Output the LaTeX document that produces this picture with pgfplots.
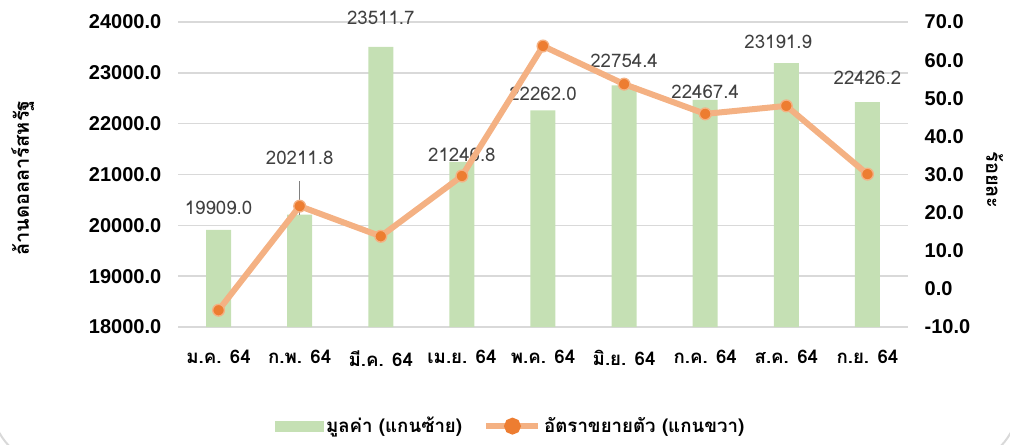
\documentclass[border=0pt]{standalone}
\usepackage{pgfplots}
\pgfplotsset{compat=1.18}
\usepackage{fontspec}
\setmainfont{Liberation Sans}
\newfontfamily\thai[Script=Thai]{Loma}

\definecolor{barg}{HTML}{C5E0B4}
\definecolor{lineo}{HTML}{F4B183}
\definecolor{marko}{HTML}{ED7D31}
\definecolor{gridc}{HTML}{D9D9D9}
\definecolor{lblc}{HTML}{404040}

\begin{document}
\begin{tikzpicture}
\path[use as bounding box] (0,0) rectangle (757.5pt,333pt);
\draw[gridc, line width=1.5pt, rounded corners=45pt] (-6pt,-15pt) rectangle (763.5pt,360pt);

% left axis: values (bars)
\begin{axis}[
  at={(133.5pt,87.75pt)}, anchor=south west,
  scale only axis, width=547.5pt, height=228.75pt,
  xmin=-0.5, xmax=8.5, ymin=18000, ymax=24000,
  clip mode=individual,
  xtick={0,...,8},
  xticklabels={ม.ค. 64, ก.พ. 64, มี.ค. 64, เม.ย. 64, พ.ค. 64, มิ.ย. 64, ก.ค. 64, ส.ค. 64, ก.ย. 64},
  xticklabel style={font=\thai\bfseries\fontsize{14}{14}\selectfont, yshift=-14pt},
  ytick={18000,19000,...,24000},
  scaled y ticks=false,
  ymajorgrids, grid style={draw=gridc, line width=1.2pt},
  axis line style={draw=none}, major tick length=0pt,
  yticklabel style={font=\bfseries\fontsize{15}{15}\selectfont, xshift=-9pt,
    /pgf/number format/fixed, /pgf/number format/fixed zerofill,
    /pgf/number format/precision=1, /pgf/number format/1000 sep={},
    /pgf/number format/assume math mode=true},
]
\addplot[ybar, bar width=18.75pt, bar shift=0pt, fill=barg, draw=none]
  coordinates {(0,19909.0) (1,20211.8) (2,23511.7) (3,21246.8) (4,22262.0)
               (5,22754.4) (6,22467.4) (7,23191.9) (8,22426.2)};
\draw[gray, line width=0.8pt] (axis cs:1,20872) -- (axis cs:1,20204);
\tikzset{lbl/.style={font=\thai\fontsize{14}{14}\selectfont, text=lblc, inner sep=0pt}}
\node[lbl] at (axis cs:0,20341) {19909.0};
\node[lbl] at (axis cs:1,21325) {20211.8};
\node[lbl] at (axis cs:2,24080) {23511.7};
\node[lbl] at (axis cs:3,21384) {21246.8};
\node[lbl] at (axis cs:4,22584) {22262.0};
\node[lbl] at (axis cs:5,23230) {22754.4};
\node[lbl] at (axis cs:6,22623) {22467.4};
\node[lbl] at (axis cs:6.9,23605) {23191.9};
\node[lbl] at (axis cs:8,22898) {22426.2};
\end{axis}

% right axis: growth rate (line)
\begin{axis}[
  at={(133.5pt,87.75pt)}, anchor=south west,
  scale only axis, width=547.5pt, height=228.75pt,
  xmin=-0.5, xmax=8.5, ymin=-10, ymax=70,
  clip=false,
  axis x line=none, axis y line*=right,
  ytick={-10,0,...,70},
  axis line style={draw=none}, major tick length=0pt,
  yticklabel style={font=\bfseries\fontsize{15}{15}\selectfont, xshift=9pt,
    /pgf/number format/fixed, /pgf/number format/fixed zerofill,
    /pgf/number format/precision=1,
    /pgf/number format/assume math mode=true},
  legend style={at={(0.456,-0.325)}, anchor=center, draw=none, fill=none,
    legend columns=2, font=\thai\bfseries\fontsize{14}{14}\selectfont,
    /tikz/every even column/.style={column sep=14pt}},
]
\addlegendimage{legend image code/.code={\fill[barg] (0pt,-4pt) rectangle (36pt,4pt);}}
\addlegendentry{มูลค่า (แกนซ้าย)}
\addplot[lineo, line width=4.5pt, mark=*, mark size=4.4pt,
  mark options={fill=marko, draw=lineo, line width=1pt},
  legend image code/.code={\draw[lineo, line width=4.5pt] (0pt,0pt) -- (39pt,0pt);
    \fill[marko] (19.5pt,0pt) circle (4pt);}]
  coordinates {(0,-5.6) (1,21.7) (2,13.8) (3,29.6) (4,63.7)
               (5,53.7) (6,45.9) (7,48.0) (8,30.1)};
\addlegendentry{อัตราขยายตัว (แกนขวา)}
\end{axis}

\node[rotate=90, font=\thai\bfseries\fontsize{15}{15}\selectfont] at (17pt,199.5pt) {ล้านดอลลาร์สหรัฐ};
\node[rotate=-90, font=\thai\bfseries\fontsize{15}{15}\selectfont] at (746pt,198pt) {ร้อยละ};
\end{tikzpicture}
\end{document}
